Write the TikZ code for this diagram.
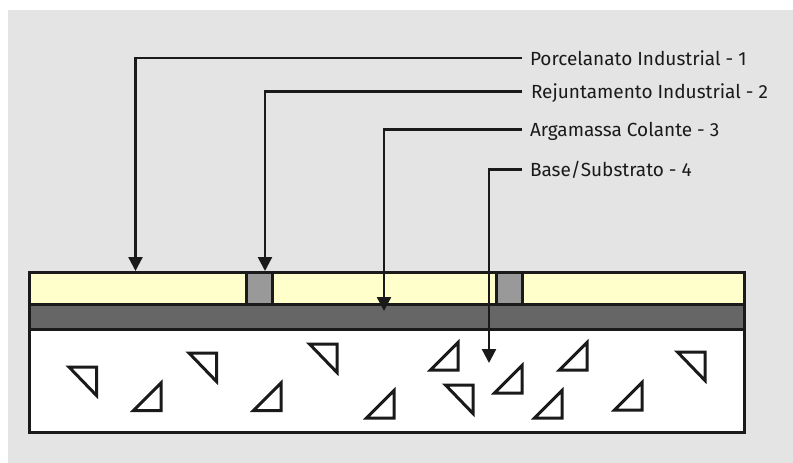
\documentclass[tikz,border=0pt]{standalone}
\usepackage{xcolor}
\usepackage{fontspec}
\setmainfont{Fira Sans}
\usetikzlibrary{positioning,arrows.meta}
\definecolor{bgcol}{HTML}{E4E4E4}
\definecolor{tilecol}{HTML}{FFFFCC}
\definecolor{mortarcol}{HTML}{666666}
\definecolor{groutcol}{HTML}{999999}
\definecolor{inkcol}{HTML}{1A1A1A}

\begin{document}
\begin{tikzpicture}[
    x=1pt, y=-1pt,
    layer/.style={rectangle, draw=inkcol, line width=3pt, minimum width=715pt, inner sep=0pt, outer sep=0pt},
    grout/.style={rectangle, draw=inkcol, line width=3pt, fill=groutcol, minimum width=26pt, minimum height=32pt, inner sep=0pt, outer sep=0pt},
    lbl/.style={text=inkcol, font=\fontsize{19pt}{22pt}\selectfont, anchor=west, inner sep=0pt, outer sep=0pt, text height=14pt, text depth=0pt},
    leader/.style={draw=inkcol, line width=2.4pt, -{Triangle[length=14pt, width=14pt]}},
    wedge/.style={draw=inkcol, line width=3pt, fill=white, miter limit=10}
]
\useasboundingbox (0,0) rectangle (793,463);
\fill[bgcol] (8,10) rectangle (793,463);

% Layers
\node[layer, fill=tilecol, minimum height=32pt, anchor=north west] (tile) at (29.5,272) {};
\node[layer, fill=mortarcol, minimum height=25pt, below=0pt of tile] (mortar) {};
\node[layer, fill=white, minimum height=103pt, below=0pt of mortar] (base) {};

% Joints
\node[grout, anchor=north west] (jointa) at (246.5,272) {};
\node[grout, anchor=north west] (jointb) at (496.5,272) {};

% Aggregate
\foreach \cx/\cy in {96.5/367, 216.5/353, 337/344, 473/385, 705/352}
    \draw[wedge] (\cx,\cy) -- ++(-27.5,0) -- ++(27.5,28.5) -- cycle;
\foreach \cx/\cy in {161/410.5, 281/410.5, 394/418, 458/370, 522/393, 562/418, 587/370, 642/410}
    \draw[wedge] (\cx,\cy) -- ++(-27.5,0) -- ++(27.5,-27.5) -- cycle;

% Labels
\node[lbl] (porc) at (530,58) {Porcelanato Industrial - 1};
\node[lbl] (rej) at (531,91.5) {Rejuntamento Industrial - 2};
\node[lbl] (arg) at (530,129.5) {Argamassa Colante - 3};
\node[lbl] (sub) at (530,169.5) {Base/Substrato - 4};

% Arrow ends
\coordinate (endporc) at (135.5,271);
\coordinate (endrej) at (265,271);
\coordinate (endarg) at (384,311);
\coordinate (endsub) at (489,363);

% Arrows
\draw[leader] ([xshift=-8pt]porc.west) -| (endporc);
\draw[leader] ([xshift=-9pt]rej.west) -| (endrej);
\draw[leader] ([xshift=-8pt]arg.west) -| (endarg);
\draw[leader] ([xshift=-8pt]sub.west) -| (endsub);

\end{tikzpicture}
\end{document}
